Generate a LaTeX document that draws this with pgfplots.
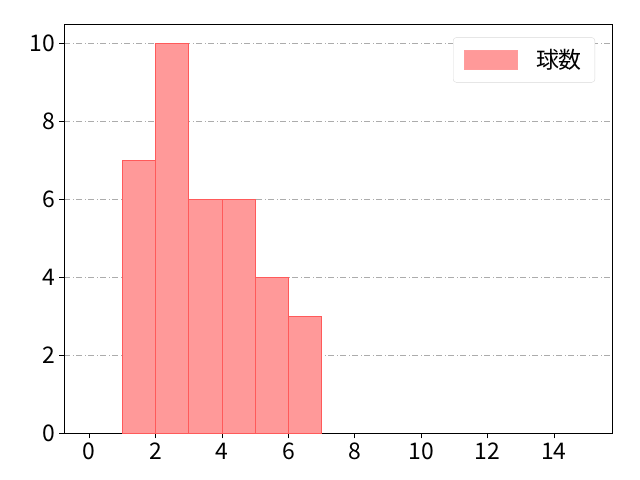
\documentclass[border=0pt]{standalone}
\usepackage{fontspec}
\setmainfont{Noto Sans CJK JP}
\usepackage{pgfplots}
\pgfplotsset{compat=1.18}
\definecolor{barfill}{RGB}{255,153,153}
\definecolor{baredge}{RGB}{255,90,90}
\begin{document}
\begin{tikzpicture}[x=1bp,y=1bp]
\path[use as bounding box] (0,0) rectangle (640,480);
\begin{axis}[
  at={(64.3bp,46.7bp)}, anchor=south west,
  scale only axis, width=547.7bp, height=409bp,
  xmin=-0.75, xmax=15.75, ymin=0, ymax=10.5,
  xtick={0,2,...,14}, ytick={0,2,...,10},
  xtick pos=bottom, ytick pos=left,
  tick align=outside, major tick length=5bp,
  tick style={black, line width=0.8bp},
  axis line style={line width=0.8bp},
  ymajorgrids,
  grid style={gray!65, line width=0.8bp, dash pattern=on 6bp off 2.5bp on 1bp off 2.5bp},
  tick label style={font=\fontsize{23}{26}\selectfont},
  /pgf/number format/assume math mode=true,
  xticklabel style={yshift=-1bp},
  yticklabel style={xshift=-1bp},
  legend style={at={(0.969,0.968)}, anchor=north east, draw=black!15, rounded corners=3bp,
    font=\fontsize{23}{26}\selectfont, inner xsep=11bp, inner ysep=10bp},
  legend cell align=left,
  legend image code/.code={\fill[barfill, draw=baredge!60, sharp corners] (0bp,-9.5bp) rectangle (53bp,9.5bp);},
]
\addplot[ybar interval, fill=barfill, draw=baredge, line width=0.8bp] coordinates {
 (1,7) (2,10) (3,6) (4,6) (5,4) (6,3) (7,3)
};
\addlegendentry{\hspace{16bp}球数\hspace{2bp}}
\end{axis}
\end{tikzpicture}
\end{document}
